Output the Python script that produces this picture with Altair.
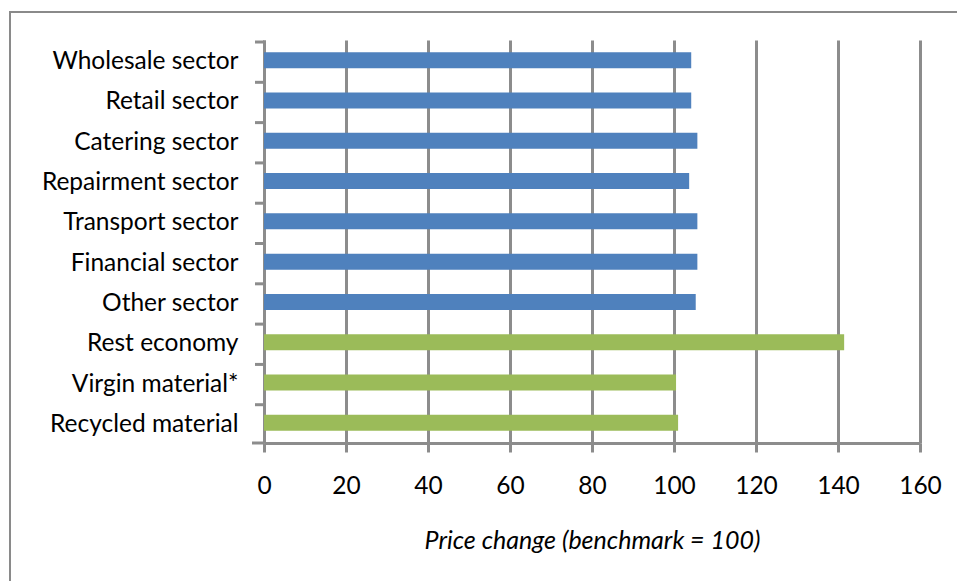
import altair as alt
import pandas as pd

# Price index per sector (benchmark = 100)
categories = [
    "Wholesale sector", "Retail sector", "Catering sector", "Repairment sector",
    "Transport sector", "Financial sector", "Other sector", "Rest economy",
    "Virgin material*", "Recycled material",
]
price_index = [104.2, 104.2, 105.7, 103.7, 105.7, 105.7, 105.3, 141.5, 100.5, 101.0]
group = ["Sector"] * 7 + ["Economy & materials"] * 3

group_names = ["Sector", "Economy & materials"]
group_colors = ["#4F81BD", "#9BBB59"]

x_ticks = [0, 20, 40, 60, 80, 100, 120, 140, 160]

df = pd.DataFrame({"category": categories, "value": price_index, "group": group})

FONT = "Lato"
FS = 24.5
GRAY = "#8c8c8c"
W, H = 656, 403

y_axis = alt.Axis(labelFontSize=FS, labelFont=FONT, labelColor="black",
                  labelPadding=26, labelOffset=2, ticks=False, domainColor=GRAY,
                  domainWidth=3, labelLimit=300)

bars = alt.Chart(df).mark_bar(size=16).encode(
    x=alt.X("value:Q", scale=alt.Scale(domain=[0, 160], nice=False),
            title="Price change (benchmark = 100)",
            axis=alt.Axis(values=x_ticks, grid=True, gridColor=GRAY, gridWidth=3,
                          tickColor=GRAY, tickWidth=3, tickSize=9,
                          domainColor=GRAY, domainWidth=3,
                          labelFontSize=FS, labelFont=FONT, labelColor="black",
                          labelPadding=22, labelFlush=False, labelOverlap=False,
                          titleFont=FONT, titleFontSize=FS + 0.5,
                          titleFontStyle="italic", titleFontWeight="normal",
                          titleColor="black", titlePadding=31)),
    y=alt.Y("category:N", sort=categories, title=None, axis=y_axis),
    color=alt.Color("group:N", scale=alt.Scale(domain=group_names, range=group_colors),
                    legend=None),
)

# short tick marks at the category boundaries on the left of the value axis
y_ticks = alt.Chart(df).mark_rule(color=GRAY, strokeWidth=3).encode(
    y=alt.Y("category:N", sort=categories, bandPosition=0, title=None, axis=y_axis),
    x=alt.value(-9), x2=alt.value(0),
)
bottom_tick = alt.Chart(pd.DataFrame({"k": [0]})).mark_rule(color=GRAY, strokeWidth=3).encode(
    y=alt.value(H), x=alt.value(-12), x2=alt.value(0),
)

# outer chart frame
frame = alt.Chart(pd.DataFrame({"k": [0]})).mark_rect(
    fillOpacity=0, stroke="#8a8a8a", strokeWidth=2, clip=False
).encode(
    x=alt.value(-254), x2=alt.value(740), y=alt.value(-28), y2=alt.value(600),
)

chart = alt.layer(frame, bars, y_ticks, bottom_tick).properties(
    width=W, height=H,
    autosize=alt.AutoSizeParams(type="none"),
    padding={"left": 264, "top": 40, "right": 37, "bottom": 138},
    background="white",
).configure_view(stroke=None)

chart.save("out.html", embed_options={"renderer": "svg", "actions": False})
